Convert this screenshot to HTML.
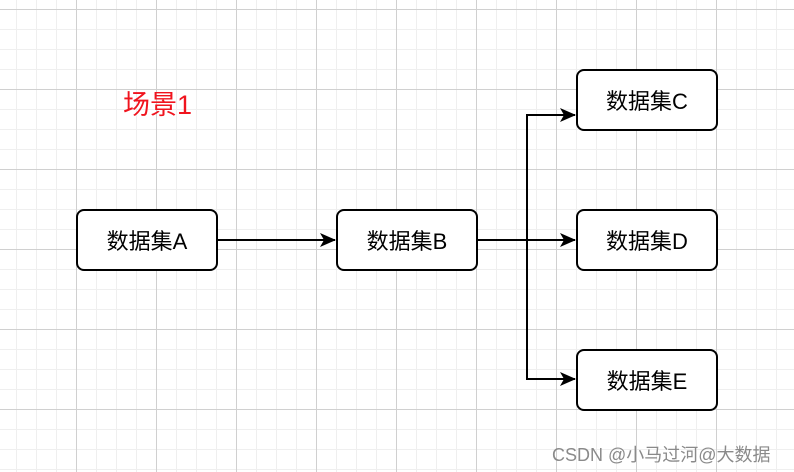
<!DOCTYPE html>
<html><head><meta charset="utf-8"><style>
html,body{margin:0;padding:0}
body{width:794px;height:472px;overflow:hidden;position:relative;background:#fff;
background-image:
linear-gradient(to right,#d0d0d0 1px,transparent 1px),
linear-gradient(to bottom,#d0d0d0 1px,transparent 1px),
linear-gradient(to right,#efefef 1px,transparent 1px),
linear-gradient(to bottom,#efefef 1px,transparent 1px);
background-size:80px 80px,80px 80px,20px 20px,20px 20px;
background-position:76px 9px,76px 9px,16px 9px,16px 9px;
font-family:"Liberation Sans","Noto Sans CJK SC",sans-serif}
.b{position:absolute;width:138px;height:58px;border:2px solid #000;border-radius:8px;background:#fff;
display:flex;align-items:center;justify-content:center;font-size:22px;color:#000;box-sizing:content-box}
</style></head><body>
<div style="position:absolute;left:123px;top:83px;font-size:27px;color:#f0141e">场景1</div>
<svg width="794" height="472" style="position:absolute;left:0;top:0">
<defs><marker id="a" markerWidth="16" markerHeight="16" refX="15" refY="7" orient="auto" markerUnits="userSpaceOnUse">
<path d="M0,0 L16,7 L0,14 L4,7z" fill="#000"/></marker></defs>
<g stroke="#000" stroke-width="2" fill="none">
<line x1="218" y1="240" x2="335" y2="240" marker-end="url(#a)"/>
<line x1="478" y1="240" x2="575" y2="240" marker-end="url(#a)"/>
<polyline points="527,240 527,115 575,115" marker-end="url(#a)"/>
<polyline points="527,240 527,379 575,379" marker-end="url(#a)"/>
</g></svg>
<div class="b" style="left:76px;top:209px">数据集A</div>
<div class="b" style="left:336px;top:209px">数据集B</div>
<div class="b" style="left:576px;top:69px">数据集C</div>
<div class="b" style="left:576px;top:209px">数据集D</div>
<div class="b" style="left:576px;top:349px">数据集E</div>
<div style="position:absolute;left:552px;top:441px;font-size:18px;color:#8a8a8a">CSDN @小马过河@大数据</div>
</body></html>
